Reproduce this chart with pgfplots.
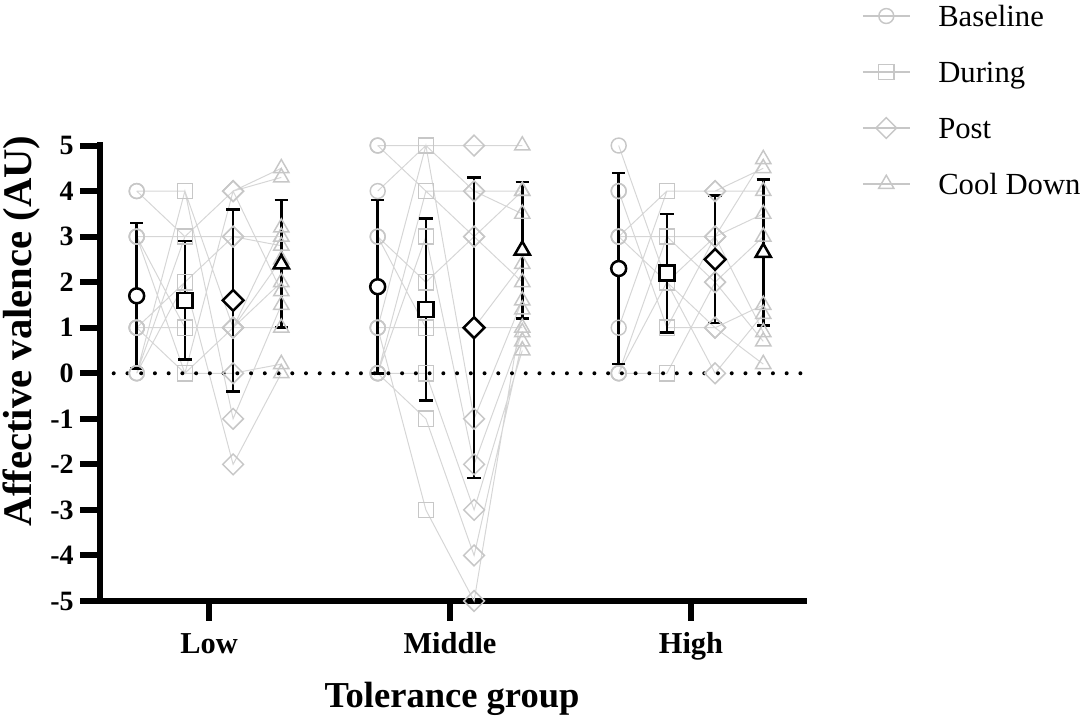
\documentclass[border=0pt]{standalone}
\usepackage{fontspec}
\setmainfont{Liberation Serif}
\usepackage{pgfplots}
\usepackage{pgfplotstable}
\pgfplotsset{compat=1.18}
\definecolor{gline}{gray}{0.84}
\definecolor{gmark}{gray}{0.78}

% individual participants, long format: c = condition (0 Baseline, 1 During, 2 Post, 3 Cool Down)
\pgfplotstableread{
c y
0 4
1 4
2 1
3 3.2
0 nan
0 4
1 3
2 4
3 4.5
0 nan
0 3
1 3
2 3
3 3.0
0 nan
0 3
1 0
2 4
3 4.3
0 nan
0 3
1 1
2 1
3 1.0
0 nan
0 1
1 1
2 1
3 2.0
0 nan
0 1
1 0
2 0
3 0.2
0 nan
0 1
1 2
2 3
3 2.8
0 nan
0 0
1 4
2 -1
3 1.5
0 nan
0 0
1 2
2 -2
3 0
0 nan
0 0
1 3
2 4
3 1.8
0 nan
0 1
1 0
2 1
3 2.5
}\lowgrp

\pgfplotstableread{
c y
0 5
1 5
2 5
3 5
0 nan
0 5
1 4
2 4
3 4
0 nan
0 4
1 5
2 4
3 3.5
0 nan
0 3
1 2
2 3
3 2.0
0 nan
0 1
1 5
2 -1
3 1.6
0 nan
0 1
1 1
2 1
3 1.0
0 nan
0 0
1 3
2 -2
3 0.9
0 nan
0 0
1 -1
2 -4
3 0.7
0 nan
0 0
1 0
2 -3
3 0.5
0 nan
0 1
1 -3
2 -5
3 1.4
0 nan
0 3
1 1
2 1
3 2.4
0 nan
0 0
1 4
2 3
3 4
}\midgrp

\pgfplotstableread{
c y
0 5
1 2
2 3
3 4.7
0 nan
0 4
1 1
2 1
3 1.5
0 nan
0 3
1 4
2 4
3 4.5
0 nan
0 3
1 3
2 2
3 3.0
0 nan
0 1
1 4
2 4
3 4.0
0 nan
0 0
1 3
2 3
3 3.5
0 nan
0 0
1 2
2 0
3 1.3
0 nan
0 4
1 1
2 3
3 0.9
0 nan
0 0
1 0
2 2
3 0.7
0 nan
0 3
1 2
2 1
3 0.2
}\highgrp

% group means and SD
\pgfplotstableread{
g bm bs dm ds pm ps cm cs
1 1.7 1.6 1.6 1.3 1.6 2.0 2.4 1.4
2 1.9 1.9 1.4 2.0 1.0 3.3 2.7 1.5
3 2.3 2.1 2.2 1.3 2.5 1.4 2.65 1.6
}\means

\pgfplotsset{
  gm/.style={only marks, forget plot, color=gmark, mark options={line width=1.1pt, solid, fill=none}},
  mst/.style={only marks, forget plot, black,
    mark options={draw=black, fill=white, line width=1.9pt, solid}},
  ebar/.style={only marks, mark=none, forget plot, black,
    error bars/y dir=both, error bars/y explicit,
    error bars/error bar style={line width=1.9pt, black, solid},
    error bars/error mark options={rotate=90, line width=1.9pt, mark size=5pt, black}},
}

\newcommand\group[2]{%
  \addplot[gline, line width=0.75pt, unbounded coords=jump, forget plot]
    table[x expr=#2-0.3+0.2*\thisrow{c}, y=y]{#1};
  \addplot[gm, mark=o, mark size=5.6pt, restrict expr to domain={\thisrow{c}}{0:0}]
    table[x expr=#2-0.3+0.2*\thisrow{c}, y=y]{#1};
  \addplot[gm, mark=square, mark size=5.7pt, restrict expr to domain={\thisrow{c}}{1:1}]
    table[x expr=#2-0.3+0.2*\thisrow{c}, y=y]{#1};
  \addplot[gm, mark=square, mark size=5.5pt, every mark/.append style={rotate=45}, restrict expr to domain={\thisrow{c}}{2:2}]
    table[x expr=#2-0.3+0.2*\thisrow{c}, y=y]{#1};
  \addplot[gm, mark=triangle, mark size=6.6pt, restrict expr to domain={\thisrow{c}}{3:3}]
    table[x expr=#2-0.3+0.2*\thisrow{c}, y=y]{#1};
}

\begin{document}
\begin{tikzpicture}
\path[use as bounding box] (0,0) rectangle (813pt,540pt);
\begin{axis}[
  at={(75pt,89.25pt)}, anchor=south west,
  scale only axis, width=528pt, height=341.6pt,
  xmin=0.5477, xmax=3.469, ymin=-5, ymax=5,
  clip=false,
  axis x line*=bottom, axis y line*=left,
  axis line style={line width=5pt, black, line cap=rect, -},
  xtick={1,2,3}, xticklabels={Low,Middle,High},
  ytick={-5,-4,...,5}, yticklabels={-5,-4,-3,-2,-1,0,1,2,3,4,5},
  minor tick num=0,
  tick align=outside, major tick length=15pt,
  tick style={line width=4.5pt, black},
  xticklabel style={font=\bfseries\fontsize{22.8}{26}\selectfont, anchor=base, yshift=-24pt},
  yticklabel style={font=\bfseries\fontsize{21}{25}\selectfont, anchor=east, inner sep=0pt, xshift=-4.5pt},
  xlabel={Tolerance group},
  ylabel={Affective valence (AU)},
  every axis x label/.style={at={(axis description cs:0.5,-0.215)}, anchor=center,
     font=\bfseries\fontsize{27.4}{31}\selectfont},
  every axis y label/.style={at={(axis description cs:-0.1115,0.593)}, anchor=center, rotate=90,
     font=\bfseries\fontsize{30.5}{34}\selectfont},
  legend image code/.code={\draw[mark repeat=2, mark phase=2, #1] plot coordinates {(0pt,0pt) (17.5pt,0pt) (35pt,0pt)};},
  legend style={draw=none, fill=none, at={(axis description cs:1.0824,1.3098)}, anchor=north west,
     inner sep=0pt, font=\fontsize{23}{27}\selectfont, row sep=25pt, column sep=21pt,
     nodes={inner sep=0pt, text height=16pt, text depth=1pt}},
  legend cell align=left,
]
\group{\lowgrp}{1}
\group{\midgrp}{2}
\group{\highgrp}{3}

\addplot[black, line width=3pt, line cap=round, dash pattern=on 0pt off 10.3pt, forget plot]
  coordinates {(0.5477,0) (3.469,0)};

\addplot[ebar] table[x expr=\thisrow{g}-0.3, y=bm, y error=bs]{\means};
\addplot[ebar] table[x expr=\thisrow{g}-0.1, y=dm, y error=ds]{\means};
\addplot[ebar] table[x expr=\thisrow{g}+0.1, y=pm, y error=ps]{\means};
\addplot[ebar] table[x expr=\thisrow{g}+0.3, y=cm, y error=cs]{\means};

\addplot[mst, mark=*, mark size=5.6pt] table[x expr=\thisrow{g}-0.3, y=bm]{\means};
\addplot[mst, mark=square*, mark size=5.7pt] table[x expr=\thisrow{g}-0.1, y=dm]{\means};
\addplot[mst, mark=square*, mark size=5.5pt, every mark/.append style={rotate=45}] table[x expr=\thisrow{g}+0.1, y=pm]{\means};
\addplot[mst, mark=triangle*, mark size=6.6pt] table[x expr=\thisrow{g}+0.3, y=cm]{\means};

\addlegendimage{gmark, line width=1pt, mark=o, mark size=5.6pt, mark options={line width=1.1pt}}
\addlegendentry{Baseline}
\addlegendimage{gmark, line width=1pt, mark=square, mark size=5.7pt, mark options={line width=1.1pt}}
\addlegendentry{During}
\addlegendimage{gmark, line width=1pt, mark=square, mark size=5.5pt, mark options={line width=1.1pt, rotate=45}}
\addlegendentry{Post}
\addlegendimage{gmark, line width=1pt, mark=triangle, mark size=6.6pt, mark options={line width=1.1pt}}
\addlegendentry{Cool Down}
\end{axis}
\end{tikzpicture}
\end{document}
